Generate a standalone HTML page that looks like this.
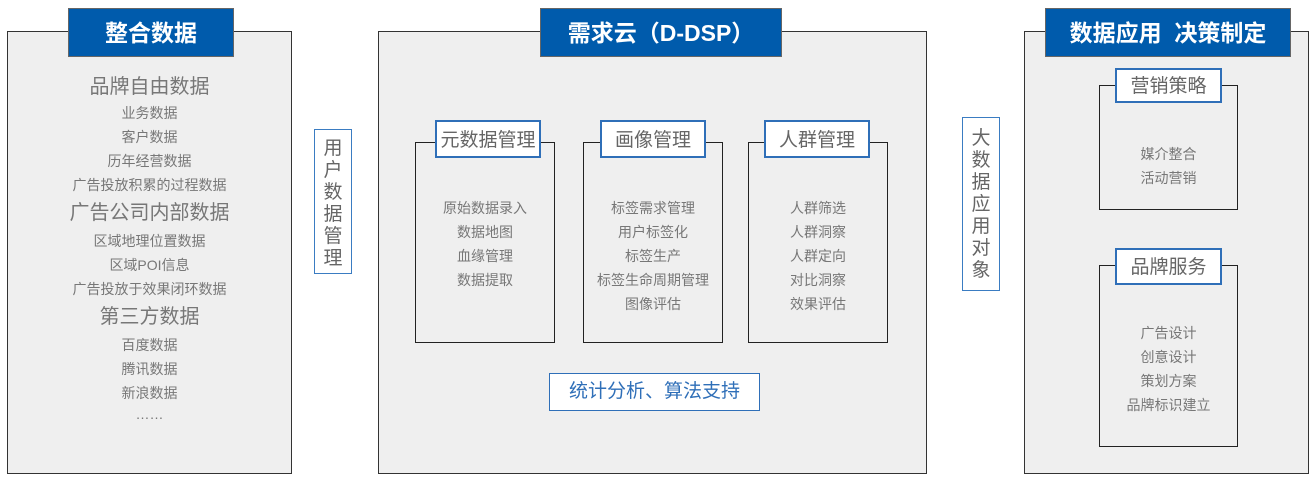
<!DOCTYPE html>
<html><head><meta charset="utf-8"><style>
body{margin:0;width:1314px;height:481px;background:#fff;position:relative;overflow:hidden;font-family:"Liberation Sans","Noto Sans CJK SC",sans-serif;color:#777}
div{position:absolute;box-sizing:border-box}
.panel{background:#efefef;border:1px solid #333}
.hdr{background:#005bac;color:#fff;font-weight:bold;font-size:23px;text-align:center;line-height:48px;border:1px solid #666}
.sub{border:1px solid #222;background:#efefef}
.sh{background:#fff;border:2px solid #2f6fb8;font-size:19px;text-align:center;color:#666}
.vt{background:#fff;border:1px solid #3a7cc2;font-size:19px;text-align:center;line-height:22px;padding-top:8px;color:#666}
.t{left:0;right:0;text-align:center;font-size:14px;line-height:24px}
</style></head><body>
<div class="panel" style="left:7px;top:31px;width:285px;height:443px"></div>
<div class="hdr" style="left:68px;top:8px;width:166px;height:49px">整合数据</div>
<div class="t" style="left:7px;width:285px;top:73px;line-height:24px">
<div style="position:static;font-size:20px;line-height:28px">品牌自由数据</div>
<div style="position:static">业务数据</div><div style="position:static">客户数据</div><div style="position:static">历年经营数据</div><div style="position:static">广告投放积累的过程数据</div>
<div style="position:static;font-size:20px;line-height:32px">广告公司内部数据</div>
<div style="position:static">区域地理位置数据</div><div style="position:static">区域POI信息</div><div style="position:static">广告投放于效果闭环数据</div>
<div style="position:static;font-size:20px;line-height:32px">第三方数据</div>
<div style="position:static">百度数据</div><div style="position:static">腾讯数据</div><div style="position:static">新浪数据</div><div style="position:static;line-height:18px">……</div>
</div>
<div class="vt" style="left:314px;top:129px;width:38px;height:145px">用<br>户<br>数<br>据<br>管<br>理</div>

<div class="panel" style="left:378px;top:31px;width:549px;height:443px"></div>
<div class="hdr" style="left:540px;top:8px;width:242px;height:49px">需求云（D-DSP）</div>

<div class="sub" style="left:415px;top:142px;width:140px;height:201px"></div>
<div class="sh" style="left:435px;top:120px;width:106px;height:38px;line-height:37px">元数据管理</div>
<div class="t" style="left:415px;width:140px;top:196px">原始数据录入<br>数据地图<br>血缘管理<br>数据提取</div>

<div class="sub" style="left:583px;top:142px;width:140px;height:201px"></div>
<div class="sh" style="left:600px;top:120px;width:106px;height:38px;line-height:37px">画像管理</div>
<div class="t" style="left:583px;width:140px;top:196px">标签需求管理<br>用户标签化<br>标签生产<br>标签生命周期管理<br>图像评估</div>

<div class="sub" style="left:748px;top:142px;width:140px;height:201px"></div>
<div class="sh" style="left:764px;top:120px;width:106px;height:38px;line-height:37px">人群管理</div>
<div class="t" style="left:748px;width:140px;top:196px">人群筛选<br>人群洞察<br>人群定向<br>对比洞察<br>效果评估</div>

<div class="sh" style="left:549px;top:373px;width:211px;height:38px;line-height:36px;color:#2f6fb8;border-width:1px">统计分析、算法支持</div>

<div class="vt" style="left:962px;top:117px;width:38px;height:174px;line-height:22px;padding-top:10px">大<br>数<br>据<br>应<br>用<br>对<br>象</div>

<div class="panel" style="left:1024px;top:31px;width:285px;height:443px"></div>
<div class="hdr" style="left:1045px;top:8px;width:246px;height:49px">数据应用&nbsp;&nbsp;决策制定</div>

<div class="sub" style="left:1099px;top:85px;width:139px;height:125px"></div>
<div class="sh" style="left:1115px;top:68px;width:107px;height:35px;line-height:34px">营销策略</div>
<div class="t" style="left:1099px;width:139px;top:142px">媒介整合<br>活动营销</div>

<div class="sub" style="left:1099px;top:265px;width:139px;height:182px"></div>
<div class="sh" style="left:1115px;top:248px;width:107px;height:37px;line-height:36px">品牌服务</div>
<div class="t" style="left:1099px;width:139px;top:321px">广告设计<br>创意设计<br>策划方案<br>品牌标识建立</div>
</body></html>
